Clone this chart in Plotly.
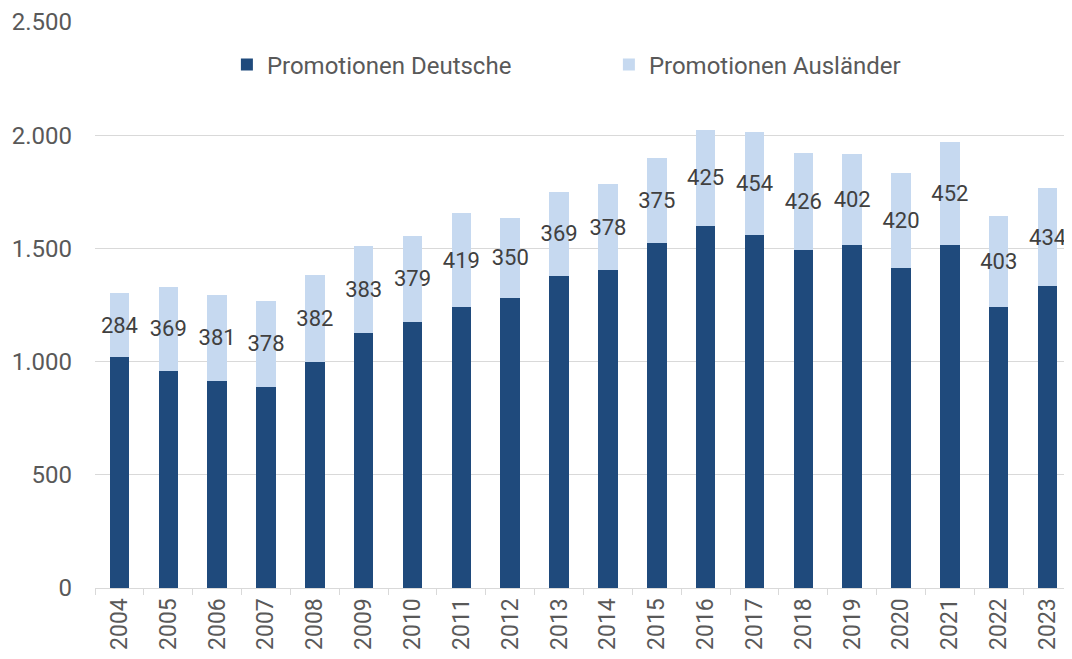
import plotly.graph_objects as go

# Promotionen nach Jahr
jahre = [str(j) for j in range(2004, 2024)]
deutsche = [1019, 960, 915, 889, 1000, 1128, 1176, 1239, 1283, 1380,
            1405, 1523, 1599, 1561, 1495, 1515, 1415, 1516, 1240, 1333]
auslaender = [284, 369, 381, 378, 382, 383, 379, 419, 350, 369,
              378, 375, 425, 454, 426, 402, 420, 452, 403, 434]

FONT = 'Roboto, "Open Sans", sans-serif'

fig = go.Figure()

# Deutsche (unten)
fig.add_trace(go.Bar(
    x=jahre,
    y=deutsche,
    name='Promotionen Deutsche',
    marker=dict(color='#1F4A7C', line_width=0),
))

# Ausländer (oben, mit Beschriftung)
fig.add_trace(go.Bar(
    x=jahre,
    y=auslaender,
    name='Promotionen Ausländer',
    marker=dict(color='#C6D9F0', line_width=0),
    text=auslaender,
    textposition='inside',
    insidetextanchor='middle',
    textangle=0,
    constraintext='none',
    textfont=dict(family=FONT, size=22, color='#404040'),
))

# body hat 8px Rand -> Figur etwas kleiner
fig.update_layout(
    barmode='stack',
    bargap=0.6,
    width=1064,
    height=651,
    margin=dict(l=87, r=0, t=14, b=71),
    paper_bgcolor='white',
    plot_bgcolor='white',
    separators=',.',
    font=dict(family=FONT, size=24, color='#595959'),
    legend=dict(
        orientation='h',
        x=0.135,
        xanchor='left',
        y=0.924,
        yanchor='middle',
        entrywidth=337,
        font=dict(family=FONT, size=24, color='#595959'),
        bgcolor='rgba(0,0,0,0)',
        traceorder='normal',
    ),
    xaxis=dict(
        type='category',
        tickangle=-90,
        ticks='outside',
        tickson='boundaries',
        ticklen=6,
        tickcolor='#D9D9D9',
        showline=True,
        linecolor='#D9D9D9',
        linewidth=1,
        showgrid=False,
        tickfont=dict(family=FONT, size=23, color='#595959'),
    ),
    yaxis=dict(
        range=[0, 2500],
        dtick=500,
        tickformat=',d',
        showgrid=True,
        gridcolor='#D9D9D9',
        gridwidth=1,
        zeroline=False,
        ticks='',
        ticklabelstandoff=22,
        tickfont=dict(family=FONT, size=24, color='#595959'),
    ),
    showlegend=True,
)

fig.write_html("out.html")
